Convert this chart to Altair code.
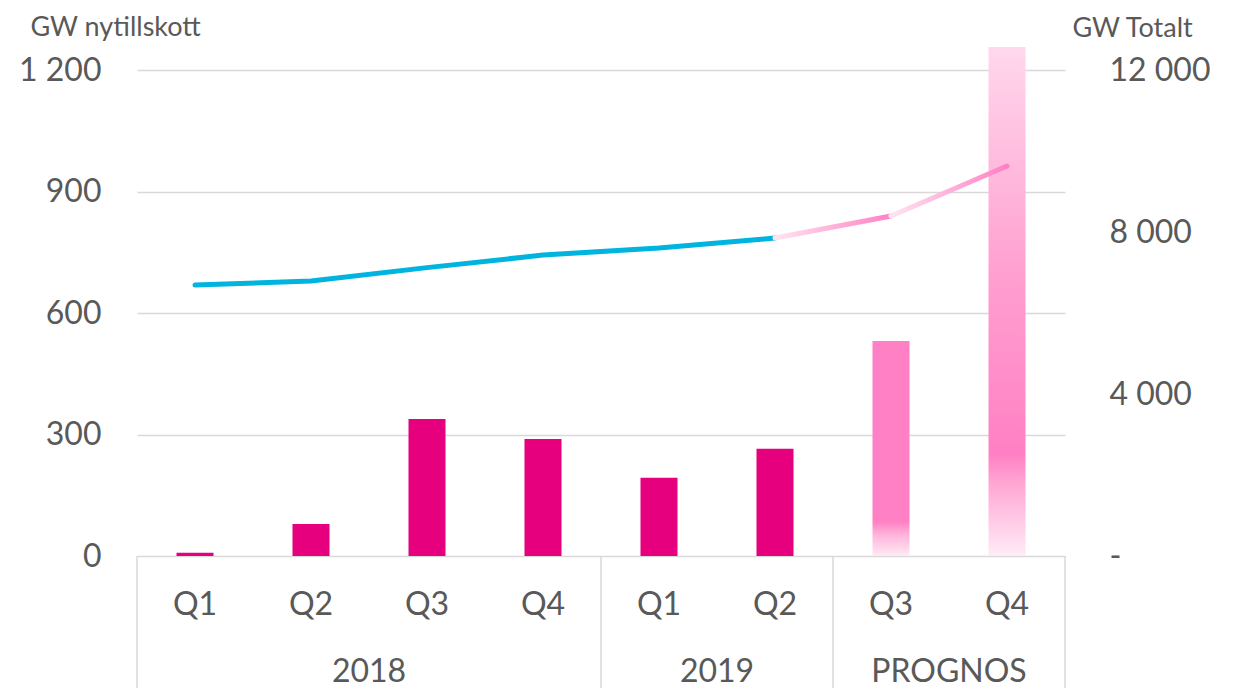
import altair as alt
import pandas as pd

quarters = ["Q1", "Q2", "Q3", "Q4", "Q1", "Q2", "Q3", "Q4"]
groups = ["2018", "2018", "2018", "2018", "2019", "2019", "PROGNOS", "PROGNOS"]
new_gw = [8, 79, 338, 289, 193, 265, 531, 1257]
total_gw = [6690, 6790, 7120, 7430, 7605, 7850, 8395, 9630]
left_ticks = [0, 300, 600, 900, 1200]
right_ticks = [0, 4000, 8000, 12000]

df = pd.DataFrame({
    "idx": list(range(len(quarters))),
    "quarter": quarters,
    "group": groups,
    "new": new_gw,
    "total": total_gw,
})

# group boundaries for separator lines
bounds = [-0.5]
for i in range(1, len(groups)):
    if groups[i] != groups[i - 1]:
        bounds.append(i - 0.5)
bounds.append(len(groups) - 0.5)
bdf = pd.DataFrame({"b": bounds})

W, H = 928, 486
FONT = "Lato"
GREY = "#595959"
MAGENTA = "#E6007E"
BLUE = "#00B4E0"

xs = alt.Scale(domain=[-0.5, len(quarters) - 0.5], nice=False, zero=False, padding=0)
x_enc = alt.X("idx:Q", scale=xs, axis=None)

ys_left = alt.Scale(domain=[0, 1200], nice=False)
ys_right = alt.Scale(domain=[0, 12000], nice=False)

base = alt.Chart(df)

bar_actual = base.transform_filter("datum.group != 'PROGNOS'").mark_bar(
    size=37, color=MAGENTA
).encode(
    x=x_enc,
    y=alt.Y("new:Q", scale=ys_left,
            axis=alt.Axis(values=left_ticks, title="GW nytillskott", titleAngle=0,
                          titleAlign="left", titleBaseline="alphabetic",
                          titleX=-107, titleY=-35, titleFontSize=27,
                          titleFontWeight="normal", titleColor=GREY,
                          labelExpr="replace(format(datum.value, ','), ',', ' ')",
                          labelFontSize=32, labelColor=GREY, labelPadding=36,
                          domain=False, ticks=False, grid=True,
                          gridColor="#d9d9d9", gridWidth=1.5)),
)

grad_q3 = alt.Gradient(
    gradient="linear", x1=0, x2=0, y1=0, y2=1,
    stops=[alt.GradientStop(color="#ff80c4", offset=0),
           alt.GradientStop(color="#ff80c4", offset=0.84),
           alt.GradientStop(color="#ffb3da", offset=0.9),
           alt.GradientStop(color="#ffeaf5", offset=1)],
)
grad_q4 = alt.Gradient(
    gradient="linear", x1=0, x2=0, y1=0, y2=1,
    stops=[alt.GradientStop(color="#ffd8ec", offset=0),
           alt.GradientStop(color="#ff9fd0", offset=0.45),
           alt.GradientStop(color="#ff80c4", offset=0.8),
           alt.GradientStop(color="#ffa8d5", offset=0.86),
           alt.GradientStop(color="#ffecf6", offset=1)],
)

bar_q3 = base.transform_filter("datum.idx == 6").mark_bar(size=37, fill=grad_q3).encode(
    x=x_enc, y=alt.Y("new:Q", scale=ys_left, axis=None))
bar_q4 = base.transform_filter("datum.idx == 7").mark_bar(size=37, fill=grad_q4).encode(
    x=x_enc, y=alt.Y("new:Q", scale=ys_left, axis=None))

line_actual = base.transform_filter("datum.idx <= 5").mark_line(
    color=BLUE, strokeWidth=5, strokeCap="round", strokeJoin="round"
).encode(
    x=x_enc,
    y=alt.Y("total:Q", scale=ys_right,
            axis=alt.Axis(orient="right", values=right_ticks, title="GW Totalt",
                          titleAngle=0, titleAlign="left", titleBaseline="alphabetic",
                          titleX=7, titleY=-34, titleFontSize=27,
                          titleFontWeight="normal", titleColor=GREY,
                          labelExpr="datum.value == 0 ? '-' : replace(format(datum.value, ','), ',', ' ')",
                          labelFontSize=32, labelColor=GREY, labelPadding=44,
                          domain=False, ticks=False, grid=False)),
)

line_grad = alt.Gradient(
    gradient="linear", x1=0, x2=1, y1=0, y2=0,
    stops=[alt.GradientStop(color="#ffe4f1", offset=0),
           alt.GradientStop(color="#ff80c4", offset=1)],
)
seg1 = base.transform_filter("datum.idx == 5 || datum.idx == 6").mark_line(
    stroke=line_grad, strokeWidth=5, strokeCap="round"
).encode(x=x_enc, y=alt.Y("total:Q", scale=ys_right, axis=None))
seg2 = base.transform_filter("datum.idx == 6 || datum.idx == 7").mark_line(
    stroke=line_grad, strokeWidth=5, strokeCap="round"
).encode(x=x_enc, y=alt.Y("total:Q", scale=ys_right, axis=None))

seps = alt.Chart(bdf).mark_rule(color="#d9d9d9", strokeWidth=1.5).encode(
    x=alt.X("b:Q", scale=xs, axis=None),
    y=alt.value(H),
    y2=alt.value(H + 140),
)

qlabels = base.mark_text(font=FONT, fontSize=32, color=GREY, baseline="middle").encode(
    x=x_enc, y=alt.value(H + 49), text="quarter:N")

glabels = base.transform_aggregate(pos="mean(idx)", groupby=["group"]).mark_text(
    font=FONT, fontSize=32, color=GREY, baseline="middle"
).encode(x=alt.X("pos:Q", scale=xs, axis=None), y=alt.value(H + 116), text="group:N")

chart = alt.layer(
    bar_actual, bar_q3, bar_q4, line_actual, seg1, seg2, seps, qlabels, glabels
).resolve_scale(
    y="independent"
).properties(
    width=W, height=H,
    autosize=alt.AutoSizeParams(type="none"),
    padding={"left": 129, "top": 62, "right": 170, "bottom": 132},
).configure_view(stroke=None).configure_axis(labelFont=FONT, titleFont=FONT)

chart.save("out.html", embed_options={"renderer": "svg", "actions": False})
